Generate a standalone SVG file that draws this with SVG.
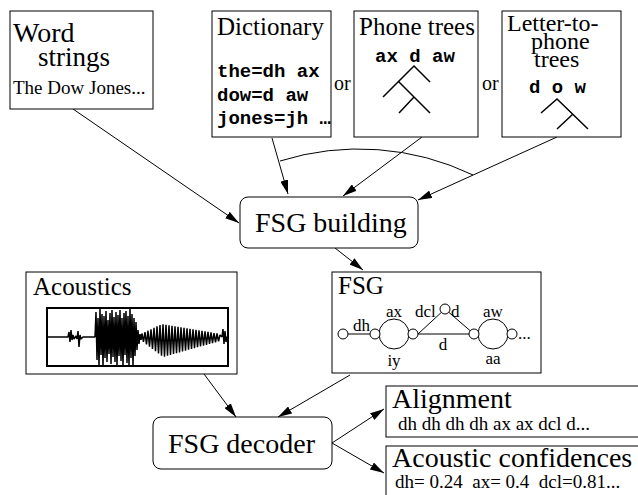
<svg xmlns="http://www.w3.org/2000/svg" width="638" height="495" viewBox="0 0 638 495">
<style>
.box{fill:#fff;stroke:#000;stroke-width:1}
.t{font-family:"Liberation Serif","Times New Roman",serif;fill:#000}
.m{font-family:"Liberation Mono","Courier New",monospace;font-weight:bold;fill:#000;font-size:19px}
.e{fill:none;stroke:#000;stroke-width:1}
.tr{fill:none;stroke:#000;stroke-width:1.5}
.c{fill:#fff;stroke:#000;stroke-width:1}
</style>
<defs>
<marker id="ah" viewBox="0 0 14 8" refX="14" refY="4" markerWidth="14" markerHeight="8" markerUnits="userSpaceOnUse" orient="auto">
<path d="M0,0 L14,4 L0,8 z" fill="#000"/>
</marker>
</defs>
<rect width="638" height="495" fill="#fff"/>

<g id="connectors">
<line class="e" x1="73" y1="109" x2="239" y2="223" marker-end="url(#ah)"/>
<line class="e" x1="272" y1="138" x2="288" y2="194" marker-end="url(#ah)"/>
<line class="e" x1="422" y1="137" x2="343" y2="196" marker-end="url(#ah)"/>
<line class="e" x1="557" y1="137" x2="418" y2="200" marker-end="url(#ah)"/>
<path class="e" d="M280,161 A264,264 0 0 1 473,175"/>
<line class="e" x1="335" y1="248" x2="363" y2="270" marker-end="url(#ah)"/>
<line class="e" x1="204" y1="374" x2="236" y2="417" marker-end="url(#ah)"/>
<line class="e" x1="350" y1="375" x2="278" y2="417" marker-end="url(#ah)"/>
<line class="e" x1="332" y1="443" x2="384" y2="409" marker-end="url(#ah)"/>
<line class="e" x1="332" y1="443" x2="384" y2="473" marker-end="url(#ah)"/>
</g>

<g id="word-strings">
<rect class="box" x="10" y="11" width="143" height="98"/>
<text class="t" x="13" y="42" font-size="28">Word</text>
<text class="t" x="38" y="66" font-size="27">strings</text>
<text class="t" x="13" y="94" font-size="19">The Dow Jones...</text>
</g>

<g id="dictionary">
<rect class="box" x="212" y="11" width="119" height="126"/>
<text class="t" x="217" y="35" font-size="25">Dictionary</text>
<text class="m" x="217" y="77">the=dh ax</text>
<text class="m" x="217" y="101">dow=d aw</text>
<text class="m" x="217" y="124">jones=jh …</text>
</g>

<text class="t" x="334" y="90" font-size="20">or</text>

<g id="phone-trees">
<rect class="box" x="354" y="11" width="124" height="126"/>
<text class="t" x="359" y="35" font-size="25">Phone trees</text>
<text class="m" x="375" y="62">ax d aw</text>
<path class="tr" d="M430,82 L414,66 L383,97 M399,82 L430,113 M414,97 L399,113"/>
</g>

<text class="t" x="482" y="90" font-size="20">or</text>

<g id="letter-to-phone-trees">
<rect class="box" x="502" y="11" width="119" height="126"/>
<text class="t" x="507" y="31" font-size="24">Letter-to-</text>
<text class="t" x="531" y="49" font-size="24">phone</text>
<text class="t" x="534" y="67" font-size="24">trees</text>
<text class="m" x="529" y="93">d o w</text>
<path class="tr" d="M541,113 L557,99 L588,129 M573,114 L557,129"/>
</g>

<g id="fsg-building">
<rect class="box" x="240" y="197" width="178" height="51" rx="8" ry="8"/>
<text class="t" x="255" y="232" font-size="28">FSG building</text>
</g>

<g id="acoustics">
<rect class="box" x="26" y="272" width="211" height="102"/>
<text class="t" x="33" y="295" font-size="25">Acoustics</text>
<rect x="47" y="308" width="181" height="58" fill="#fff" stroke="#000" stroke-width="2"/>
<path fill="none" stroke="#000" stroke-width="1.5" stroke-linejoin="bevel" d="M48,337 L68,337 L69,332 L70,342 L71,330 L72,340 L73,335 L74,339 L76,336 L77,339 L78,331 L79,347 L80,335 L81,339 L83,337 L95,337 L96,312 L97,360 L98,318 L99,366 L100,309 L101,355 L102,314 L103,366 L104,316 L105,358 L106,311 L107,362 L108,320 L109,354 L110,313 L111,364 L112,310 L113,357 L114,317 L115,362 L116,312 L117,366 L118,315 L119,356 L120,310 L121,361 L122,318 L123,366 L124,313 L125,355 L126,311 L127,363 L128,316 L129,366 L130,309 L131,358 L132,314 L133,366 L134,318 L135,356 L136,322 L137,350 L138,330 L139,344 L140,334 L141,340 L142,333.5 L143.5,341.9 L145,332.1 L146.5,344.3 L148,330.7 L149.5,346.6 L151,329.2 L152.5,348.9 L154,327.8 L155.5,351.2 L157,326.4 L158.5,353.5 L160,325 L161.5,355.8 L163,324.2 L164.5,356.6 L166,324.7 L167.5,355.7 L169,325.2 L170.5,354.9 L172,325.7 L173.5,354 L175,326.2 L176.5,353.2 L178,326.8 L179.5,352.4 L181,327.3 L182.5,351.5 L184,327.8 L185.5,350.7 L187,328.3 L188.5,349.8 L190,328.8 L191.5,349 L193,329.3 L194.5,348.2 L196,329.9 L197.5,347.3 L199,330.4 L200.5,346.5 L202,330.9 L203.5,345.6 L205,331.4 L206.5,344.8 L208,331.9 L209.5,343.9 L211,332.4 L212.5,343.1 L214,333 L215.5,342.3 L217,333.5 L218.5,341.4 L220,335 L222,337 L223,329 L224,344 L225,331 L226,342 L227,337 L228,337"/>
</g>

<g id="fsg">
<rect class="box" x="332" y="272" width="209" height="101"/>
<text class="t" x="338" y="294" font-size="25">FSG</text>
<line class="e" x1="348" y1="334" x2="370" y2="334"/>
<circle class="e" cx="394" cy="334" r="15"/>
<line class="e" x1="418" y1="334" x2="469" y2="334"/>
<path class="e" d="M418,334 L445,309 L474,334"/>
<circle class="e" cx="493" cy="334" r="15"/>
<circle class="c" cx="343" cy="334" r="5"/>
<circle class="c" cx="375" cy="334" r="5"/>
<circle class="c" cx="413" cy="334" r="5"/>
<circle class="c" cx="445" cy="309" r="5"/>
<circle class="c" cx="474" cy="334" r="5"/>
<circle class="c" cx="512" cy="334" r="5"/>
<g class="t" font-size="17">
<text x="353" y="331">dh</text>
<text x="394" y="317" text-anchor="middle">ax</text>
<text x="394" y="366" text-anchor="middle">iy</text>
<text x="415" y="317">dcl</text>
<text x="451" y="317">d</text>
<text x="443" y="350" text-anchor="middle">d</text>
<text x="493" y="317" text-anchor="middle">aw</text>
<text x="493" y="364" text-anchor="middle">aa</text>
<text x="518" y="339">...</text>
</g>
</g>

<g id="fsg-decoder">
<rect class="box" x="153" y="417" width="179" height="52" rx="8" ry="8"/>
<text class="t" x="168" y="453" font-size="28">FSG decoder</text>
</g>

<g id="alignment">
<rect class="box" x="386" y="386" width="270" height="51"/>
<text class="t" x="392" y="408" font-size="28">Alignment</text>
<text class="t" x="398" y="430" font-size="19">dh dh dh dh ax ax dcl d...</text>
</g>

<g id="acoustic-confidences">
<rect class="box" x="386" y="446" width="270" height="60"/>
<text class="t" x="392" y="467" font-size="28">Acoustic confidences</text>
<text class="t" x="395" y="488" font-size="19" xml:space="preserve">dh= 0.24  ax= 0.4  dcl=0.81...</text>
</g>
</svg>
